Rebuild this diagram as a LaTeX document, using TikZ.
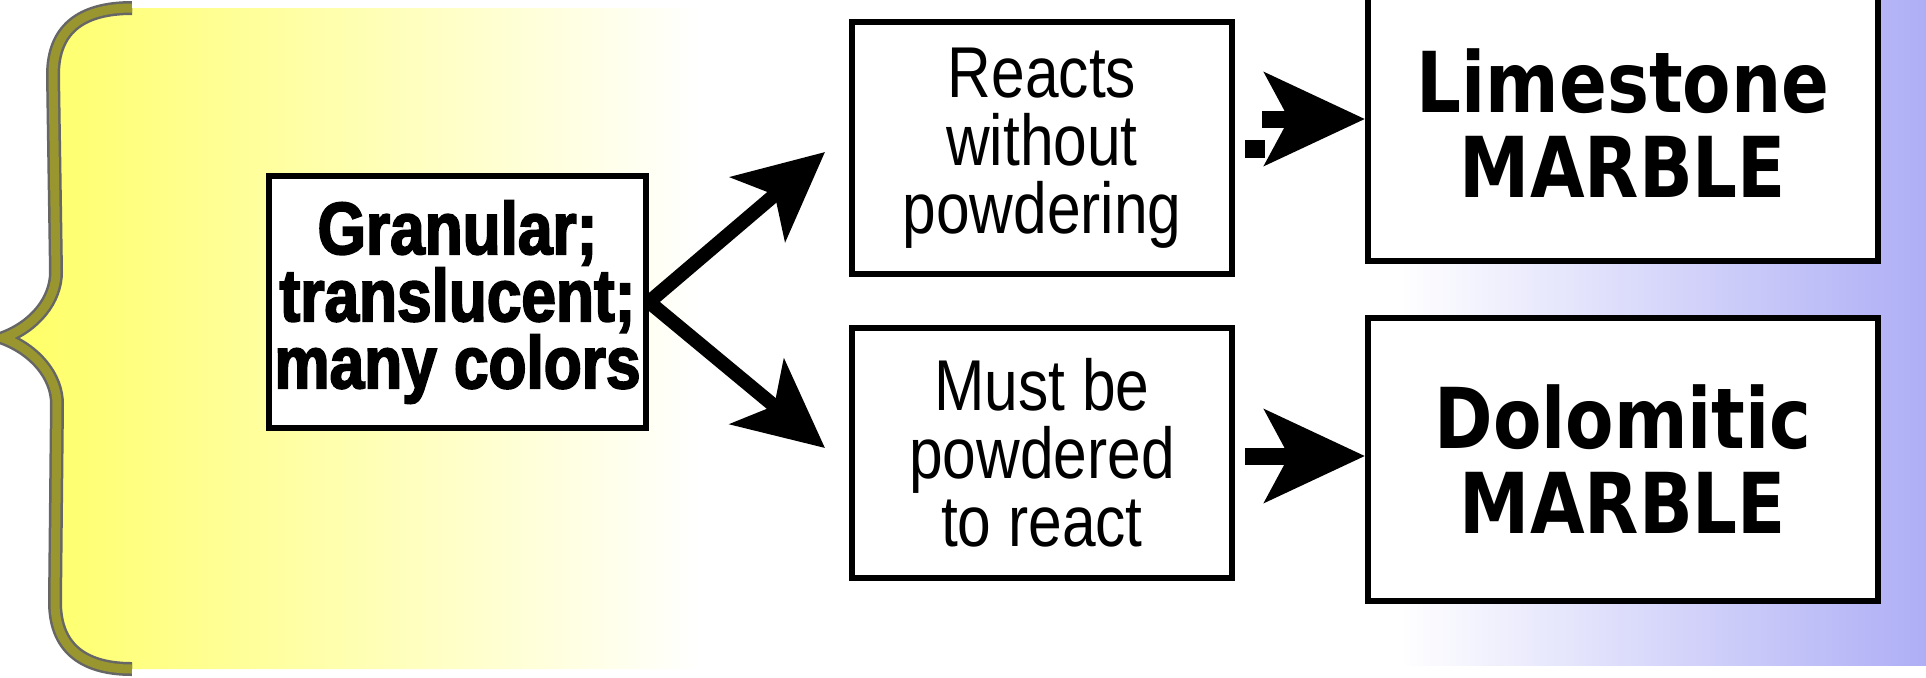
\documentclass[tikz,border=0pt]{standalone}
\usepackage{fontspec}
\usetikzlibrary{arrows.meta,calc}
\newfontfamily\condreg[FakeStretch=0.84]{Liberation Sans}
\newfontfamily\condblack[FakeStretch=0.84,FakeBold=2.5]{Liberation Sans}
\newfontfamily\marblefont[FakeStretch=0.84]{DejaVu Sans}
\definecolor{yel}{RGB}{255,255,100}
\definecolor{lav}{RGB}{174,174,246}
\definecolor{bracecol}{RGB}{153,150,48}
\begin{document}
\begin{tikzpicture}[x=0.5pt,y=-0.5pt,
  box/.style={draw=black, line width=3pt, fill=white, inner sep=0pt, align=center},
  boldtext/.style={font=\condblack\bfseries\fontsize{37}{32.5}\selectfont},
  plaintext/.style={font=\condreg\fontsize{36}{34}\selectfont},
  marbletext/.style={font=\marblefont\bfseries\fontsize{42}{42.5}\selectfont},
  diagarrow/.style={line width=7pt, -{Stealth[length=44pt,width=42pt,inset=11pt]}},
  harrow/.style={line width=8.5pt, -{Stealth[length=50pt,width=46pt,inset=12pt]}},
  bracedark/.style={draw=black!60, line width=7pt},
  braceolive/.style={draw=bracecol, line width=4.5pt}
]
\useasboundingbox (0,0) rectangle (1926,677);
\clip (0,0) rectangle (1926,677);
% backgrounds
\shade[left color=yel, right color=white]
  (132,8) .. controls (80,8) and (53,30) .. (53,75) -- (56,272)
  .. controls (56,300) and (35,326) .. (3,338)
  .. controls (35,350) and (57,376) .. (57,404) -- (55,602)
  .. controls (55,645) and (80,669) .. (132,669) -- (700,669) -- (700,8) -- cycle;
\shade[left color=white, right color=lav] (1400,0) rectangle (1926,665);
% brace
\draw[bracedark]
  (132,8) .. controls (80,8) and (53,30) .. (53,75) -- (56,272)
  .. controls (56,300) and (35,326) .. (3,338)
  .. controls (35,350) and (57,376) .. (57,404) -- (55,602)
  .. controls (55,645) and (80,669) .. (132,669);
\draw[braceolive]
  (132,8) .. controls (80,8) and (53,30) .. (53,75) -- (56,272)
  .. controls (56,300) and (35,326) .. (3,338)
  .. controls (35,350) and (57,376) .. (57,404) -- (55,602)
  .. controls (55,645) and (80,669) .. (132,669);
% boxes
\node[box, boldtext, minimum width=188.5pt, minimum height=126pt] (gran) at (457.5,302)
  {Granular;\\translucent;\\many colors};
\node[box, plaintext, minimum width=190pt, minimum height=126pt] (reacts) at (1042,148)
  {Reacts\\without\\powdering};
\node[box, plaintext, minimum width=190pt, minimum height=125pt] (must) at (1042,453)
  {Must be\\powdered\\to react};
\node[box, marbletext, minimum width=255pt, minimum height=137.5pt] (lime) at (1623,123.5)
  {Limestone\\MARBLE};
\node[box, marbletext, minimum width=255pt, minimum height=141.5pt] (dolo) at (1623,459.5)
  {Dolomitic\\MARBLE};
% arrows
\coordinate (tipup) at (825,152);
\coordinate (tipdown) at (825,448);
\draw[diagarrow] (gran.east) -- (tipup);
\draw[diagarrow] (gran.east) -- (tipdown);
\coordinate (h1) at (1262,119);
\coordinate (h2) at (1245,456);
\draw[harrow] (h1) -- (lime.west |- h1);
\draw[harrow] (h2) -- (dolo.west |- h2);
\fill (1245,140) rectangle (1265,158);
\end{tikzpicture}
\end{document}
